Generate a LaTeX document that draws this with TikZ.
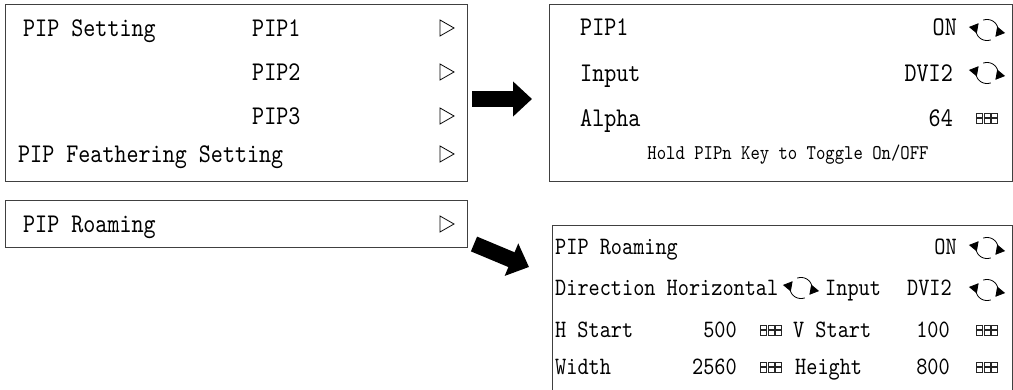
\documentclass[tikz,border=0pt]{standalone}
\usepackage{fontspec}
\setmonofont{lmmono10-regular}[Extension=.otf, FakeStretch=0.85]
\usepackage{tikz}
\usetikzlibrary{arrows.meta}

\begin{document}
\begin{tikzpicture}[x=1pt, y=-1pt,
	box/.style={draw=black!75, line width=1.3pt, anchor=north west, inner sep=0pt},
	txt/.style={font=\ttfamily\fontsize{27}{27}\selectfont, inner sep=0pt, text height=16.5pt, text depth=0pt},
	lft/.style={txt, anchor=west},
	rgt/.style={txt, anchor=east},
	stxt/.style={txt, font=\ttfamily\fontsize{25}{25}\selectfont, text height=15.3pt},
	slft/.style={stxt, anchor=west},
	srgt/.style={stxt, anchor=east},
	hint/.style={txt, font=\ttfamily\fontsize{21}{21}\selectfont, text height=12.8pt},
	blk/.style={line width=16pt, -{Triangle[length=19pt,width=34pt]}},
	tri/.pic={\draw[line width=0.8pt] (-7,-8) -- (7,0) -- (-7,8) -- cycle;},
	turn/.pic={
		\draw[line width=0.8pt, -{Triangle[length=9pt,width=10pt]}] plot[domain=-110:40, samples=40] ({11*cos(\x)},{10.5*sin(\x)});
		\draw[line width=0.8pt, -{Triangle[length=9pt,width=10pt]}] plot[domain=70:220, samples=40] ({11*cos(\x)},{10.5*sin(\x)});
	},
	keys/.pic={
		\foreach \i in {-1,0,1}
			\foreach \j in {0,1}
				\draw[line width=0.5pt, black!85] (\i*7.5-3,\j*5.5-5) rectangle ++(6,4.5);
	},
]

	\useasboundingbox (0,0) rectangle (1013,390);

	\node[box, minimum width=462pt, minimum height=177pt] (setting) at (5,4) {};
	\node[box, minimum width=462pt, minimum height=47pt] (roaming) at (5,200) {};
	\node[box, minimum width=463pt, minimum height=177pt] (pipone) at (549,4) {};
	\node[box, minimum width=460pt, minimum height=190pt] (roamset) at (552,225) {};

	\path (23,28) node[lft] (ps) {PIP Setting}
		(252,28) node[lft] (p1) {PIP1}
		(252,72) node[lft] (p2) {PIP2}
		(252,116) node[lft] (p3) {PIP3}
		(18,154) node[lft] (pf) {PIP Feathering Setting}
		(23,224) node[lft] (pr) {PIP Roaming};
	\path (447,28) pic {tri} (447,72) pic {tri} (447,116) pic {tri}
		(447,154) pic {tri} (447,224) pic {tri};

	\path (580,27) node[lft] (pipn) {PIP1}
		(957,27) node[rgt] (on) {ON}
		(580,73) node[lft] (inp) {Input}
		(953,73) node[rgt] (dvi) {DVI2}
		(580,118) node[lft] (alp) {Alpha}
		(953,118) node[rgt] (alv) {64}
		(788,153) node[hint] (hold) {Hold PIPn Key to Toggle On/OFF};
	\path (987,30) pic {turn} (987,73) pic {turn} (987,118) pic {keys};

	\path (555,247) node[slft] (rm) {PIP Roaming}
		(957,247) node[srgt] (rmon) {ON}
		(555,288) node[slft] (dir) {Direction Horizontal}
		(825,288) node[slft] (rinp) {Input}
		(952,288) node[srgt] (rdvi) {DVI2}
		(555,330) node[slft] (hs) {H Start}
		(737,330) node[srgt] (hsv) {500}
		(793,330) node[slft] (vs) {V Start}
		(950,330) node[srgt] (vsv) {100}
		(555,367) node[slft] (wd) {Width}
		(737,367) node[srgt] (wdv) {2560}
		(795,367) node[slft] (ht) {Height}
		(950,367) node[srgt] (htv) {800};
	\path (987,248) pic {turn} (801,288) pic {turn} (987,290) pic {turn}
		(771,330) pic {keys} (987,330) pic {keys}
		(771,367) pic {keys} (987,367) pic {keys};

	\coordinate (a1) at (472,99);
	\coordinate (b1) at (532,99);
	\coordinate (a2) at (474,244);
	\coordinate (b2) at (529,267);
	\draw[blk] (a1) -- (b1);
	\draw[blk] (a2) -- (b2);

\end{tikzpicture}
\end{document}
